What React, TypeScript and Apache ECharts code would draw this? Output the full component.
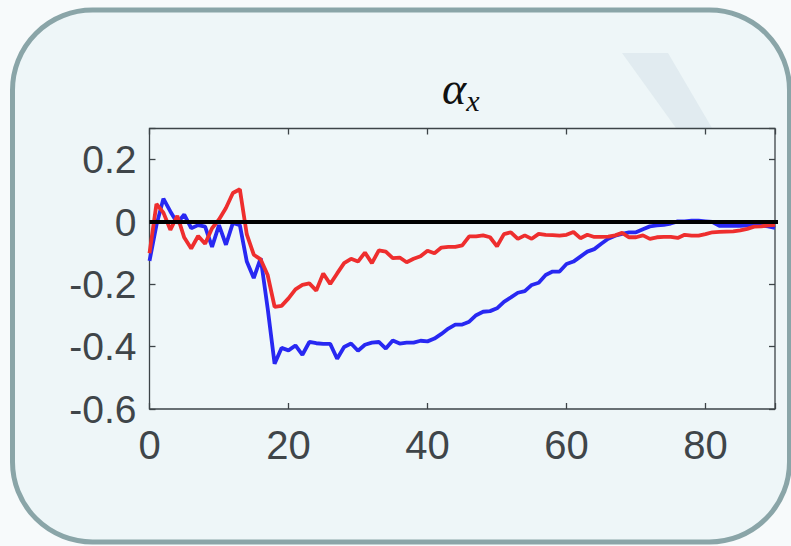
import React, { useEffect, useRef } from "react";
import * as echarts from "echarts";

const blueValues = [
  -0.125, -0.01, 0.075, 0.034, -0.003, 0.024, -0.02, -0.01, -0.015, -0.08,
  -0.01, -0.073, -0.003, -0.01, -0.127, -0.18, -0.116, -0.277, -0.455, -0.404,
  -0.412, -0.396, -0.426, -0.385, -0.389, -0.391, -0.391, -0.439, -0.401, -0.39,
  -0.413, -0.394, -0.387, -0.385, -0.406, -0.38, -0.39, -0.387, -0.387, -0.381,
  -0.383, -0.374, -0.359, -0.342, -0.329, -0.329, -0.32, -0.299, -0.288, -0.286,
  -0.277, -0.256, -0.242, -0.227, -0.222, -0.202, -0.195, -0.17, -0.159, -0.159,
  -0.135, -0.127, -0.111, -0.095, -0.087, -0.07, -0.054, -0.044, -0.038, -0.033,
  -0.033, -0.023, -0.014, -0.011, -0.009, -0.005, 0.002, 0.002, 0.004, 0.004,
  0.002, 0.0, -0.012, -0.012, -0.012, -0.012, -0.011, -0.009, -0.011, -0.014,
  -0.019,
];

const redValues = [
  -0.1, 0.058, 0.03, -0.025, 0.02, -0.05, -0.085, -0.045, -0.07, -0.02,
  0.008, 0.045, 0.093, 0.105, -0.04, -0.105, -0.12, -0.17, -0.272, -0.269,
  -0.245, -0.216, -0.202, -0.197, -0.22, -0.165, -0.199, -0.165, -0.132, -0.118,
  -0.127, -0.098, -0.132, -0.091, -0.095, -0.116, -0.114, -0.129, -0.118, -0.11,
  -0.092, -0.1, -0.082, -0.08, -0.08, -0.075, -0.046, -0.046, -0.043, -0.049,
  -0.078, -0.039, -0.033, -0.054, -0.043, -0.054, -0.038, -0.041, -0.042, -0.044,
  -0.041, -0.032, -0.052, -0.041, -0.048, -0.048, -0.047, -0.043, -0.035, -0.049,
  -0.049, -0.043, -0.054, -0.049, -0.048, -0.048, -0.051, -0.041, -0.044, -0.044,
  -0.039, -0.033, -0.032, -0.031, -0.03, -0.027, -0.022, -0.015, -0.014, -0.011,
  -0.009,
];

const zeroLine = [
  [0, 0],
  [91.1, 0],
];

const xTicks = [0, 20, 40, 60, 80];
const yTicks = [-0.6, -0.4, -0.2, 0, 0.2];

export default function App() {
  const ref = useRef<HTMLDivElement>(null);

  useEffect(() => {
    document.body.style.margin = "0";
    if (!ref.current) return;
    const chart = echarts.init(ref.current, undefined, { renderer: "svg" });

    const axisColor = "#3d4448";
    const labelColor = "#3f4549";
    const fontFamily = "'Liberation Sans', Arial, Helvetica, sans-serif";

    const xFmt = (v: number) =>
      xTicks.some((t) => Math.abs(t - v) < 1e-9) ? String(v) : "";
    const yFmt = (v: number) =>
      yTicks.some((t) => Math.abs(t - v) < 1e-9) ? String(+v.toFixed(1)) : "";

    const tick = {
      show: true,
      inside: true,
      length: 6,
      lineStyle: { color: axisColor, width: 1.3 },
    };

    const option: any = {
      animation: false,
      backgroundColor: "#f7fafb",
      graphic: [
        {
          type: "rect",
          shape: { x: 12.5, y: 10, width: 777, height: 532, r: 80 },
          style: { fill: "#eef6f8", stroke: "#8aa5a8", lineWidth: 5 },
          z: -10,
        },
        {
          type: "polygon",
          shape: {
            points: [
              [622, 53],
              [668, 53],
              [712, 128],
              [676, 128],
            ],
          },
          style: { fill: "#dde9ed", opacity: 0.8 },
          z: -9,
        },
      ],
      title: {
        text: "{a|α}{b|x}",
        left: 437,
        top: 66,
        textStyle: {
          fontWeight: "normal",
          rich: {
            a: {
              fontFamily: "'Liberation Serif', 'DejaVu Serif', serif",
              fontStyle: "italic",
              fontWeight: "normal",
              fontSize: 46,
              color: "#111",
              lineHeight: 44,
              verticalAlign: "bottom",
              padding: [0, 0, 4, 0],
            },
            b: {
              fontFamily: "'Liberation Serif', 'DejaVu Serif', serif",
              fontStyle: "italic",
              fontWeight: "normal",
              fontSize: 30,
              color: "#111",
              lineHeight: 30,
              verticalAlign: "bottom",
            },
          },
        },
      },
      grid: {
        left: 149.5,
        top: 128.5,
        right: 16,
        bottom: 137,
        show: true,
        backgroundColor: "#eff7f9",
        borderColor: axisColor,
        borderWidth: 1.3,
        containLabel: false,
      },
      xAxis: [
        {
          type: "value",
          min: 0,
          max: 90,
          interval: 20,
          position: "bottom",
          axisLine: { show: false, onZero: false },
          splitLine: { show: false },
          axisTick: tick,
          axisLabel: {
            formatter: xFmt,
            color: labelColor,
            fontFamily,
            fontSize: 40,
            margin: 16,
          },
        },
        {
          type: "value",
          min: 0,
          max: 90,
          interval: 20,
          position: "top",
          axisLine: { show: false, onZero: false },
          splitLine: { show: false },
          axisTick: tick,
          axisLabel: { show: false },
        },
      ],
      yAxis: [
        {
          type: "value",
          min: -0.6,
          max: 0.3,
          interval: 0.2,
          position: "left",
          axisLine: { show: false, onZero: false },
          splitLine: { show: false },
          axisTick: tick,
          axisLabel: {
            formatter: yFmt,
            color: labelColor,
            fontFamily,
            fontSize: 39,
            margin: 13,
          },
        },
        {
          type: "value",
          min: -0.6,
          max: 0.3,
          interval: 0.2,
          position: "right",
          axisLine: { show: false, onZero: false },
          splitLine: { show: false },
          axisTick: tick,
          axisLabel: { show: false },
        },
      ],
      series: [
        {
          name: "blue",
          type: "line",
          data: blueValues.map((v, i) => [i, v]),
          showSymbol: false,
          lineStyle: { color: "#2828f2", width: 3.8 },
          itemStyle: { color: "#2828f2" },
          z: 2,
        },
        {
          name: "red",
          type: "line",
          data: redValues.map((v, i) => [i, v]),
          showSymbol: false,
          lineStyle: { color: "#ee2e2e", width: 3.8 },
          itemStyle: { color: "#ee2e2e" },
          z: 3,
        },
        {
          name: "zero",
          type: "line",
          data: zeroLine,
          showSymbol: false,
          clip: false,
          lineStyle: { color: "#000000", width: 3.8 },
          itemStyle: { color: "#000000" },
          z: 4,
        },
      ],
    };

    chart.setOption(option);
    return () => chart.dispose();
  }, []);

  return <div ref={ref} style={{ width: 791, height: 546 }} />;
}
